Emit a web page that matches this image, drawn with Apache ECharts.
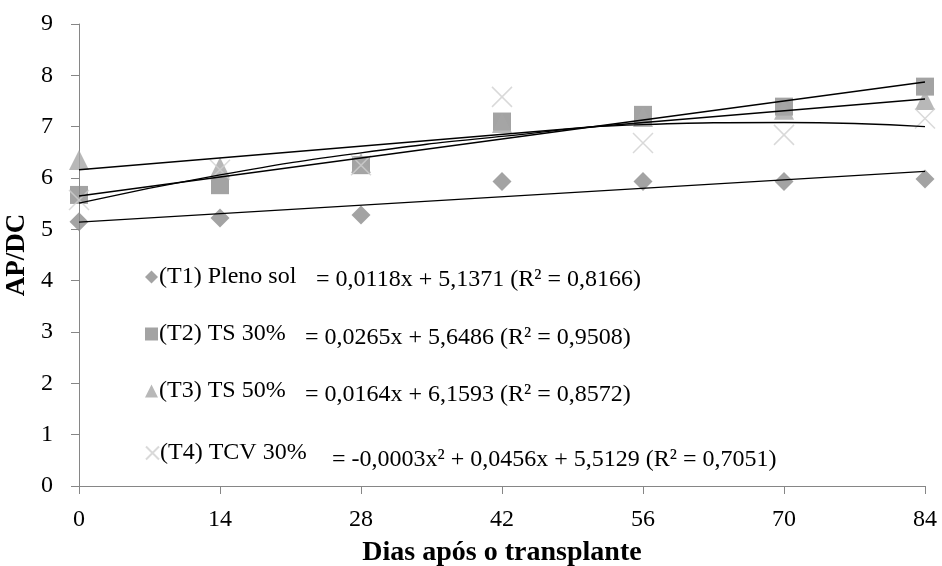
<!DOCTYPE html>
<html><head><meta charset="utf-8">
<script src="https://cdn.jsdelivr.net/npm/echarts@6/dist/echarts.min.js"></script>
<style>html,body{margin:0;padding:0;background:#fff}#c{width:942px;height:566px}</style>
</head><body><div id="c"></div>
<script>
const days = [0, 14, 28, 42, 56, 70, 84];
const xTicks = [0, 14, 28, 42, 56, 70, 84];
const t1 = [5.15, 5.22, 5.28, 5.93, 5.93, 5.93, 5.98];
const t2 = [5.67, 5.86, 6.25, 7.10, 7.23, 7.39, 7.78];
const t3 = [6.35, 6.21, 6.29, 7.07, 7.19, 7.33, 7.52];
const t4 = [5.57, 6.16, 6.25, 7.58, 6.68, 6.84, 7.16];
const trend1 = [[0, 5.14], [84, 6.13]];
const trend2 = [[0, 5.65], [84, 7.87]];
const trend3 = [[0, 6.16], [84, 7.54]];
const trend4 = [[0, 5.51], [14, 6.06], [28, 6.49], [42, 6.81], [56, 7.04], [70, 7.08], [84, 7.00]];
const names = ['(T1) Pleno sol', '(T2) TS 30%', '(T3) TS 50%', '(T4) TCV 30%'];
const equations = [
  '= 0,0118x + 5,1371 (R\u00b2 = 0,8166)',
  '= 0,0265x + 5,6486 (R\u00b2 = 0,9508)',
  '= 0,0164x + 6,1593 (R\u00b2 = 0,8572)',
  '= -0,0003x\u00b2 + 0,0456x + 5,5129 (R\u00b2 = 0,7051)'
];

const font = '"Liberation Serif", "Times New Roman", serif';
const pair = v => days.map((d, i) => [d, v[i]]);
const crossPath = 'path://M0,0 L10,10 M10,0 L0,10';

const chart = echarts.init(document.getElementById('c'));
const legendTops = [265, 322, 379, 441];
const eqPos = [[316, 268], [305, 326], [305, 383], [332, 448]];

chart.setOption({
  animation: false,
  textStyle: { fontFamily: font },
  grid: { left: 79, right: 17, top: 24, bottom: 80, containLabel: false, outerBoundsMode: 'none' },
  xAxis: {
    type: 'value', min: 0, max: 84, interval: 14,
    name: 'Dias após o transplante', nameLocation: 'middle', nameGap: 53,
    nameTextStyle: { fontFamily: font, fontSize: 28, fontWeight: 'bold', color: '#000' },
    axisLine: { lineStyle: { color: '#868686', width: 1 } },
    axisTick: { show: true, length: 8, lineStyle: { color: '#868686' } },
    axisLabel: { fontFamily: font, fontSize: 24, color: '#000', margin: 22,
      formatter: v => xTicks.includes(v) ? String(v) : '' },
    splitLine: { show: false }
  },
  yAxis: {
    type: 'value', min: 0, max: 9, interval: 1,
    name: 'AP/DC', nameLocation: 'middle', nameGap: 34, nameRotate: 90,
    nameTextStyle: { fontFamily: font, fontSize: 27, fontWeight: 'bold', color: '#000' },
    axisLine: { show: true, lineStyle: { color: '#868686', width: 1 } },
    axisTick: { show: true, length: 8, lineStyle: { color: '#868686' } },
    axisLabel: { fontFamily: font, fontSize: 24, color: '#000', margin: 26 },
    splitLine: { show: false }
  },
  legend: names.map((n, i) => ({
    data: [n], orient: 'vertical', left: 145, top: legendTops[i],
    itemWidth: 13, itemHeight: 13, itemGap: 0, padding: 0,
    textStyle: { fontFamily: font, fontSize: 24, color: '#000', padding: [0, 0, 0, -4] }
  })),
  graphic: equations.map((e, i) => ({
    type: 'text', left: eqPos[i][0], top: eqPos[i][1],
    style: { text: e, fontFamily: font, fontSize: 24, fill: '#000' }
  })),
  series: [
    { name: names[0], type: 'scatter', data: pair(t1), symbol: 'diamond', symbolSize: 19,
      itemStyle: { color: '#8c8c8c' }, z: 3 },
    { name: names[1], type: 'scatter', data: pair(t2), symbol: 'rect', symbolSize: 18,
      itemStyle: { color: '#8c8c8c' }, z: 3 },
    { name: names[2], type: 'scatter', data: pair(t3), symbol: 'triangle', symbolSize: 20,
      itemStyle: { color: '#a6a6a6' }, z: 4 },
    { name: names[3], type: 'scatter', data: pair(t4), symbol: crossPath, symbolSize: 20,
      itemStyle: { color: 'rgba(0,0,0,0)', borderColor: '#d0d0d0', borderWidth: 1.5 }, z: 5 },
    { type: 'line', data: trend1, showSymbol: false, symbol: 'none', lineStyle: { color: '#000', width: 1.4 }, z: 6 },
    { type: 'line', data: trend2, showSymbol: false, symbol: 'none', lineStyle: { color: '#000', width: 1.4 }, z: 6 },
    { type: 'line', data: trend3, showSymbol: false, symbol: 'none', lineStyle: { color: '#000', width: 1.4 }, z: 6 },
    { type: 'line', data: trend4, smooth: true, showSymbol: false, symbol: 'none', lineStyle: { color: '#000', width: 1.4 }, z: 6 }
  ]
});
</script></body></html>
